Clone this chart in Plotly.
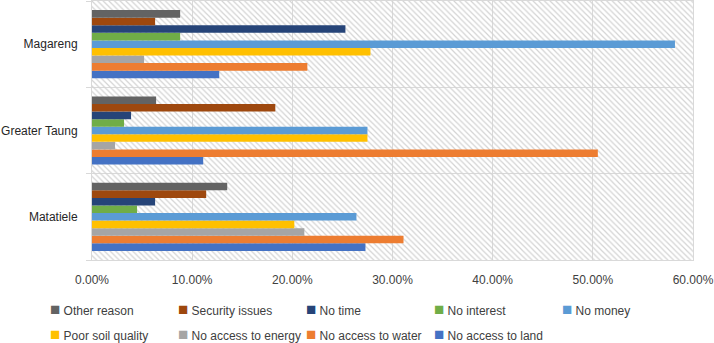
import plotly.graph_objects as go

categories = ["Matatiele", "Greater Taung", "Magareng"]

# values as fractions (order: Matatiele, Greater Taung, Magareng)
no_access_land = [0.273, 0.111, 0.127]
no_access_water = [0.311, 0.505, 0.215]
no_access_energy = [0.212, 0.023, 0.052]
poor_soil_quality = [0.202, 0.275, 0.278]
no_money = [0.264, 0.275, 0.582]
no_interest = [0.045, 0.032, 0.088]
no_time = [0.063, 0.039, 0.253]
security_issues = [0.114, 0.183, 0.063]
other_reason = [0.135, 0.064, 0.088]

series = [
    ("No access to land", no_access_land, "#4472C4"),
    ("No access to water", no_access_water, "#ED7D31"),
    ("No access to energy", no_access_energy, "#A5A5A5"),
    ("Poor soil quality", poor_soil_quality, "#FFC000"),
    ("No money", no_money, "#5B9BD5"),
    ("No interest", no_interest, "#70AD47"),
    ("No time", no_time, "#264478"),
    ("Security issues", security_issues, "#9E480E"),
    ("Other reason", other_reason, "#636363"),
]
colors = {n: c for n, _, c in series}

legend_row1 = ["Other reason", "Security issues", "No time", "No interest", "No money"]
legend_row2 = ["Poor soil quality", "No access to energy", "No access to water", "No access to land"]

FONT = "Liberation Sans, Arial, sans-serif"
TXT = "#404040"

fig = go.Figure()

# hatched plot-area background on the base subplot
fig.add_trace(go.Bar(
    x=[1], y=[0.5], base=0, width=1, orientation="h",
    marker=dict(color="rgba(0,0,0,0)", line=dict(width=0),
                pattern=dict(shape="\\", size=4, solidity=0.3, fillmode="replace",
                             fgcolor="#d3d3d3", bgcolor="rgba(0,0,0,0)")),
    showlegend=False, hoverinfo="skip", xaxis="x", yaxis="y",
))

for name, vals, color in series:
    fig.add_trace(go.Bar(
        name=name, y=categories, x=vals, orientation="h",
        marker=dict(color=color, line=dict(width=0)),
        xaxis="x2", yaxis="y2", showlegend=False,
    ))

# legend entries (square glyph close to the label, as in the original)
for lg, names in (("legend", legend_row1), ("legend2", legend_row2 + [None])):
    for name in names:
        label = (f"<span style='color:{colors[name]};font-size:17px'>■</span> {name}"
                 if name else " ")
        fig.add_trace(go.Scatter(
            x=[None], y=[None], mode="markers",
            marker=dict(color="rgba(0,0,0,0)", size=1),
            name=label, legend=lg, xaxis="x2", yaxis="y2", hoverinfo="skip",
        ))

legend_common = dict(
    orientation="h", xanchor="left", yanchor="middle",
    entrywidth=83, entrywidthmode="pixels", itemwidth=30,
    font=dict(family=FONT, size=12, color=TXT), bgcolor="rgba(0,0,0,0)",
    itemclick=False, itemdoubleclick=False,
)

fig.update_layout(
    width=714, height=343,
    margin=dict(l=92, r=21, t=1, b=83, autoexpand=False),
    paper_bgcolor="white", plot_bgcolor="white",
    barmode="group", bargap=0.21, bargroupgap=0,
    font=dict(family=FONT, size=12, color=TXT),
    xaxis=dict(range=[0, 1], visible=False, fixedrange=True),
    yaxis=dict(range=[0, 1], visible=False, fixedrange=True),
    xaxis2=dict(
        overlaying="x", range=[0, 0.60001], dtick=0.1, tickformat=".2%",
        showgrid=True, gridcolor="#d9d9d9", gridwidth=1,
        showline=True, linecolor="#d9d9d9", mirror=True,
        ticks="outside", ticklen=9, tickcolor="rgba(0,0,0,0)",
        zeroline=False, tickfont=dict(size=12, color=TXT),
        anchor="y2", automargin=False,
    ),
    yaxis2=dict(
        overlaying="y", type="category", categoryorder="array", categoryarray=categories,
        tickson="boundaries", showgrid=True, gridcolor="#d9d9d9", gridwidth=1,
        showline=True, linecolor="#d9d9d9", mirror=True,
        ticks="outside", ticklen=5, tickcolor="#d9d9d9", ticklabelstandoff=11,
        tickfont=dict(size=12, color="#262626"), anchor="x2", automargin=False,
    ),
    legend=dict(x=-0.1365, y=-0.193, **legend_common),
    legend2=dict(x=-0.1365, y=-0.2896, **legend_common),
)

fig.write_html(
    "out.html",
    config={"displayModeBar": False},
    post_script="document.body.style.margin='0';document.body.style.overflow='hidden';",
)
